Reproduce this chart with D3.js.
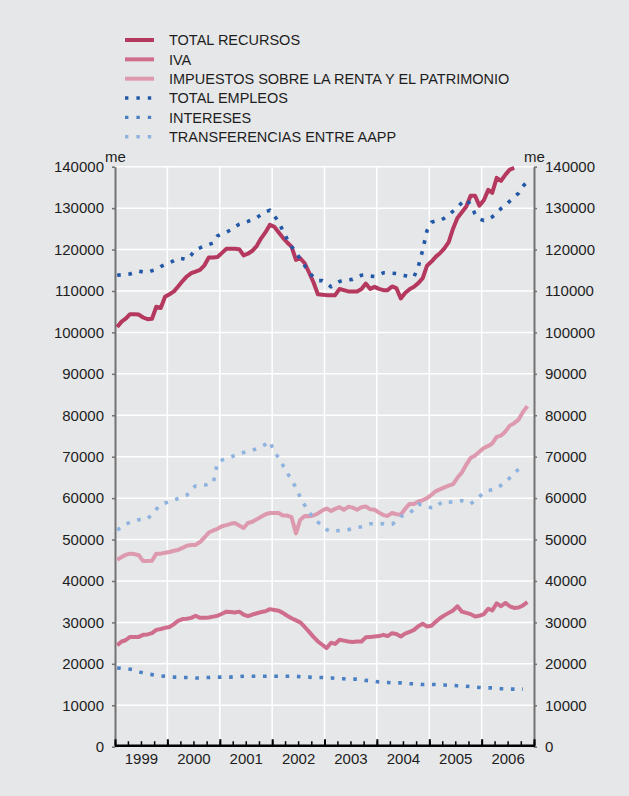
<!DOCTYPE html>
<html>
<head>
<meta charset="utf-8">
<script src="https://cdn.jsdelivr.net/npm/d3@7"></script>
<style>
  html, body { margin: 0; padding: 0; background: #e6e7e9; }
  svg { display: block; font-family: "Liberation Sans", Arial, Helvetica, sans-serif; }
</style>
</head>
<body>
<svg id="chart" width="629" height="796"></svg>
<script>
// Monthly series (millones de euros), first value = January 1999
const totalRecursos = [
  101300,102600,103300,104400,104400,104300,103600,103200,103300,106200,105900,108600,
  109200,109900,111100,112400,113500,114300,114700,115100,116200,118100,118100,118200,
  119200,120200,120200,120200,120100,118600,119000,119700,120900,122700,124200,126000,
  125500,124100,122900,121700,120700,117500,117900,116700,114400,112100,109200,109100,
  109000,109000,109000,110500,110200,109900,109900,109900,110500,111800,110500,111000,
  110500,110200,110200,111100,110700,108200,109500,110400,111000,111900,113100,116100,
  117100,118300,119100,120300,121800,125100,127600,129000,130400,133000,133000,130600,
  131900,134400,133700,137300,136600,138100,139300,139700
];
const iva = [
  24500,25400,25700,26500,26500,26500,27000,27100,27400,28200,28400,28700,
  28900,29600,30400,30800,30900,31100,31600,31100,31100,31200,31400,31600,
  32100,32600,32500,32400,32600,31900,31500,31900,32200,32500,32700,33200,
  33000,32800,32300,31600,31000,30500,30000,28900,27700,26500,25400,24600,
  23800,25100,24800,25800,25600,25400,25300,25400,25400,26400,26500,26600,
  26700,27000,26700,27400,27200,26600,27300,27700,28200,29100,29700,29000,
  29200,30200,31000,31700,32300,32900,33900,32600,32300,32000,31400,31600,
  32000,33300,32900,34600,33900,34700,33900,33500,33600,34100,34900
];
const impuestosRenta = [
  45100,45800,46300,46600,46500,46200,44800,44800,44900,46600,46600,46800,
  47000,47300,47500,48000,48500,48700,48700,49400,50500,51700,52200,52600,
  53200,53500,53800,54000,53400,52800,54000,54300,54900,55500,56100,56400,
  56400,56400,55800,55800,55400,51500,54800,55700,55600,55800,56300,57000,
  57500,56900,57400,57800,57200,57900,57700,57200,57800,58000,57300,57200,
  56500,55900,55700,56400,56100,56000,57400,58600,58600,59200,59500,60000,
  60800,61700,62100,62600,63000,63400,64900,66200,68100,69700,70300,71200,
  72100,72600,73200,74800,75100,76100,77500,78100,79000,80800,82200
];
const totalEmpleos = [
  113800,113900,114000,114100,114500,114800,114600,114500,114900,115200,115900,116400,
  116800,117300,117900,117800,117600,118700,120000,120400,120900,121200,121600,123300,
  123800,124200,124700,125500,126100,126500,126800,127300,127700,128400,129100,129500,
  128100,126700,124600,122500,120700,119500,117600,116100,114600,113300,112500,112500,
  111900,111000,111600,112300,112600,112700,112800,113300,113800,113900,113600,113500,
  113900,114400,114400,114300,114200,113900,113700,113500,113400,115900,119900,124600,
  126600,126900,127000,127600,128300,129300,130200,131300,132100,130800,128600,127400,
  127000,127400,127900,128800,129900,130700,131700,132700,133600,135300,136400
];
const intereses = [
  19000,18900,18800,18700,18500,18100,17800,17600,17400,17200,17100,17000,
  16900,16800,16800,16700,16700,16700,16600,16600,16700,16700,16800,16800,
  16800,16800,16800,16900,16900,17000,17000,17000,17000,17000,17000,17000,
  17000,17000,17000,17000,17000,17000,16900,16800,16800,16700,16700,16700,
  16600,16600,16500,16400,16400,16300,16300,16300,16200,16000,15900,15800,
  15600,15500,15500,15400,15400,15400,15300,15200,15200,15100,15000,15000,
  15000,15000,14900,14900,14800,14800,14700,14700,14600,14500,14400,14300,
  14200,14200,14200,14100,14000,14000,13900,13900,13900,13900
];
const transferencias = [
  52300,53000,53700,54200,54600,54800,54800,55000,56100,57300,58400,58800,
  59100,59500,59900,60300,60700,62000,63000,63000,63100,63400,63700,68600,
  69200,69600,69900,70300,70800,71000,71400,71600,71900,72400,73000,73700,
  71000,69800,68000,66100,64400,62500,60200,58300,56600,55200,54200,53500,
  52400,51900,52100,52200,52300,52400,52600,52900,53100,53400,53800,53800,
  53800,53800,53700,53700,54400,55600,55900,56300,57400,58600,58200,57900,
  57700,57700,58700,59300,59100,59000,59200,59400,59000,58600,59500,60400,
  61200,61800,62000,62300,63100,63900,64900,66000,67000,68100
];

const yearLabels = ["1999","2000","2001","2002","2003","2004","2005","2006"];
const yTickValues = [0,10000,20000,30000,40000,50000,60000,70000,80000,90000,100000,110000,120000,130000,140000];
const unitLabel = "me";

const seriesNames = [
  "TOTAL RECURSOS", "IVA", "IMPUESTOS SOBRE LA RENTA Y EL PATRIMONIO",
  "TOTAL EMPLEOS", "INTERESES", "TRANSFERENCIAS ENTRE AAPP"
];
const seriesValues = [totalRecursos, iva, impuestosRenta, totalEmpleos, intereses, transferencias];
const seriesColors = ["#b5385f", "#cf6d8d", "#dd9aaf", "#2258a6", "#4a80c3", "#8fb3df"];
const seriesDotted = [false, false, false, true, true, true];

// ---- layout ----
const plot = { left: 115, right: 534, top: 166.7, bottom: 746.7 };
const svg = d3.select("#chart");

const x = d3.scaleTime()
  .domain([new Date(1999, 0, 1), new Date(2007, 0, 1)])
  .range([plot.left, plot.right]);
const y = d3.scaleLinear()
  .domain([0, 140000])
  .range([plot.bottom, plot.top]);

const monthDate = i => new Date(1999, i, 16);

// gridlines
const grid = svg.append("g").attr("stroke", "#ffffff").attr("stroke-width", 1.5);
grid.selectAll("line.h")
  .data(yTickValues.filter(v => v > 0))
  .join("line")
  .attr("x1", plot.left).attr("x2", plot.right)
  .attr("y1", d => y(d)).attr("y2", d => y(d));
grid.selectAll("line.v")
  .data(d3.range(2000, 2007).map(yr => new Date(yr, 0, 1)))
  .join("line")
  .attr("x1", d => x(d)).attr("x2", d => x(d))
  .attr("y1", plot.top).attr("y2", plot.bottom);

// left and right value axes
function styleValueAxis(g) {
  g.select(".domain").attr("stroke", "#737373").attr("stroke-width", 2);
  g.selectAll(".tick line").attr("stroke", "#737373").attr("stroke-width", 1.5);
  g.selectAll(".tick text").attr("fill", "#1e1e1e").attr("font-size", 15);
}
svg.append("g")
  .attr("transform", `translate(${plot.left},0)`)
  .call(d3.axisLeft(y).tickValues(yTickValues).tickFormat(d3.format("d"))
    .tickSize(3).tickSizeOuter(0).tickPadding(8))
  .call(g => g.attr("font-family", null))
  .call(styleValueAxis);
svg.append("g")
  .attr("transform", `translate(${plot.right},0)`)
  .call(d3.axisRight(y).tickValues(yTickValues).tickFormat(d3.format("d"))
    .tickSize(3).tickSizeOuter(0).tickPadding(8))
  .call(g => g.attr("font-family", null))
  .call(styleValueAxis);

// unit labels
svg.append("text").attr("x", 105).attr("y", 161.5).attr("font-size", 15).attr("fill", "#1e1e1e").text(unitLabel);
svg.append("text").attr("x", 524).attr("y", 161.5).attr("font-size", 15).attr("fill", "#1e1e1e").text(unitLabel);

// series lines
const line = d3.line()
  .x((d, i) => x(monthDate(i)))
  .y(d => y(d))
  .curve(d3.curveLinear);

const order = [0, 1, 2, 3, 4, 5];
svg.append("g").selectAll("path")
  .data(order)
  .join("path")
  .attr("fill", "none")
  .attr("stroke", k => seriesColors[k])
  .attr("stroke-width", k => seriesDotted[k] ? 3.6 : 4)
  .attr("stroke-dasharray", k => seriesDotted[k] ? "3.6,7.7" : null)
  .attr("stroke-linejoin", "round")
  .attr("d", k => line(seriesValues[k]));

// bottom time axis
const xAxisG = svg.append("g");
xAxisG.append("line")
  .attr("x1", plot.left).attr("x2", plot.right + 1)
  .attr("y1", plot.bottom - 1).attr("y2", plot.bottom - 1)
  .attr("stroke", "#000").attr("stroke-width", 2.6);
xAxisG.append("g")
  .attr("transform", `translate(0,${plot.bottom - 1})`)
  .call(d3.axisBottom(x).ticks(d3.timeMonth.every(3)).tickFormat("").tickSize(-4.5).tickSizeOuter(0))
  .call(g => g.select(".domain").remove())
  .call(g => g.selectAll(".tick line").attr("stroke", "#000").attr("stroke-width", 1.5));
xAxisG.append("g")
  .attr("transform", `translate(0,${plot.bottom - 1})`)
  .call(d3.axisBottom(x).ticks(d3.timeYear.every(1)).tickFormat("").tickSize(-6.5).tickSizeOuter(0))
  .call(g => g.select(".domain").remove())
  .call(g => g.selectAll(".tick line").attr("stroke", "#000").attr("stroke-width", 2));
xAxisG.append("g")
  .attr("transform", `translate(0,${plot.bottom})`)
  .call(d3.axisBottom(x)
    .tickValues(yearLabels.map(yl => new Date(+yl, 6, 1)))
    .tickFormat((d, i) => yearLabels[i])
    .tickSize(0).tickPadding(7))
  .call(g => g.attr("font-family", null))
  .call(g => g.select(".domain").remove())
  .call(g => g.selectAll(".tick text").attr("fill", "#1e1e1e").attr("font-size", 15));

// legend
const legend = svg.append("g");
const rows = legend.selectAll("g")
  .data(order)
  .join("g")
  .attr("transform", (k, i) => `translate(0,${40 + i * 19.35})`);
rows.append("line")
  .attr("x1", 125).attr("x2", k => seriesDotted[k] ? 153 : 154)
  .attr("y1", 0).attr("y2", 0)
  .attr("stroke", k => seriesColors[k])
  .attr("stroke-width", k => seriesDotted[k] ? 3.4 : 4)
  .attr("stroke-dasharray", k => seriesDotted[k] ? "3.4,8" : null);
rows.append("text")
  .attr("x", 169).attr("y", 5.2)
  .attr("font-size", 14.5)
  .attr("fill", "#1e1e1e")
  .text(k => seriesNames[k]);
</script>
</body>
</html>
